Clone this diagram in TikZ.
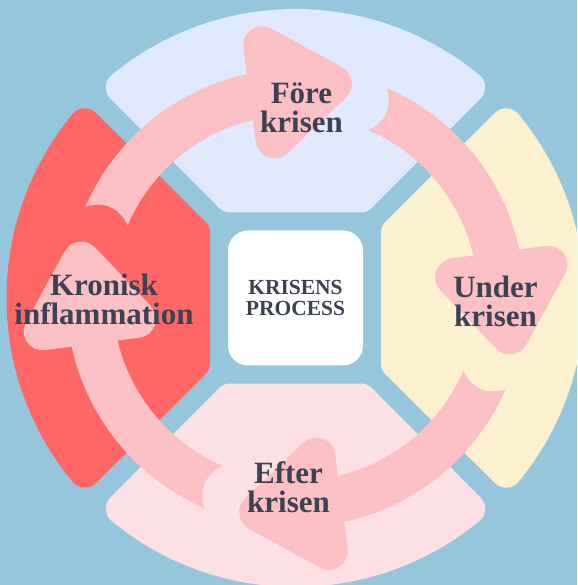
\documentclass[tikz,border=0pt]{standalone}
\usepackage{fontspec}
\setmainfont{Liberation Serif}
\usetikzlibrary{calc}
\definecolor{bgblue}{RGB}{149,198,219}
\definecolor{segtop}{RGB}{224,233,253}
\definecolor{segright}{RGB}{253,240,206}
\definecolor{segbottom}{RGB}{253,224,228}
\definecolor{segleft}{RGB}{255,102,102}
\definecolor{arrowpink}{RGB}{251,192,196}
\definecolor{textdark}{RGB}{59,66,82}
\tikzset{
  segment/.style={fill=#1, draw=#1, line width=32pt, line join=round},
  arrowshaft/.style={fill=arrowpink},
  arrowhd/.style={fill=arrowpink, draw=arrowpink, line width=38pt, line join=round},
  lbl/.style={text=textdark, font=\bfseries\fontsize{31}{29}\selectfont, align=center, inner sep=0pt},
  centerbox/.style={fill=white, rounded corners=20pt, minimum size=135pt, inner sep=0pt,
    text=textdark, font=\bfseries\fontsize{21.5}{20.5}\selectfont, align=center}
}
\begin{document}
\begin{tikzpicture}
  \useasboundingbox (-295.5pt,-287pt) rectangle (281.5pt,298pt);
  \clip (-295.5pt,-287pt) rectangle (281.5pt,298pt);
  \fill[bgblue] (-295.5pt,-287pt) rectangle (281.5pt,298pt);
  % four segments
  \foreach \ang/\col in {0/segtop, -90/segright, 180/segbottom, 90/segleft} {
    \begin{scope}[rotate=\ang]
      \path[segment=\col] (65.14pt,101.5pt) -- (50.5:273pt)
        arc[start angle=50.5, end angle=129.5, radius=273pt]
        -- (-65.14pt,101.5pt) -- cycle;
    \end{scope}
  }
  % centre box
  \node[centerbox] (centre) at (0,0) {KRISENS\\PROCESS};
  % circular arrows
  \foreach \bk in {97.5, 7.5, -82.5, -172.5} {
    \pgfmathsetmacro{\tailang}{\bk+59}
    \pgfmathsetmacro{\ctrlang}{\tailang-3.5}
    \fill[arrowshaft] (\tailang:229pt)
      arc[start angle=\tailang, end angle=\bk, radius=229pt]
      -- (\bk:183pt)
      arc[start angle=\bk, end angle=\tailang, radius=183pt]
      .. controls (\ctrlang:198pt) and (\ctrlang:214pt) .. (\tailang:229pt) -- cycle;
    \path[arrowhd] (\bk:255pt) -- (\bk:160pt) -- ($(\bk:207.5pt)+({\bk-90}:65pt)$) -- cycle;
  }
  % labels
  \node[lbl] (fore) at (6pt,190.7pt) {Före\\krisen};
  \node[lbl] (under) at (200pt,-3.3pt) {Under\\krisen};
  \node[lbl] (efter) at (-7pt,-189.3pt) {Efter\\krisen};
  \node[lbl] (kronisk) at (-191.5pt,-1pt) {Kronisk\\inflammation};
\end{tikzpicture}
\end{document}
